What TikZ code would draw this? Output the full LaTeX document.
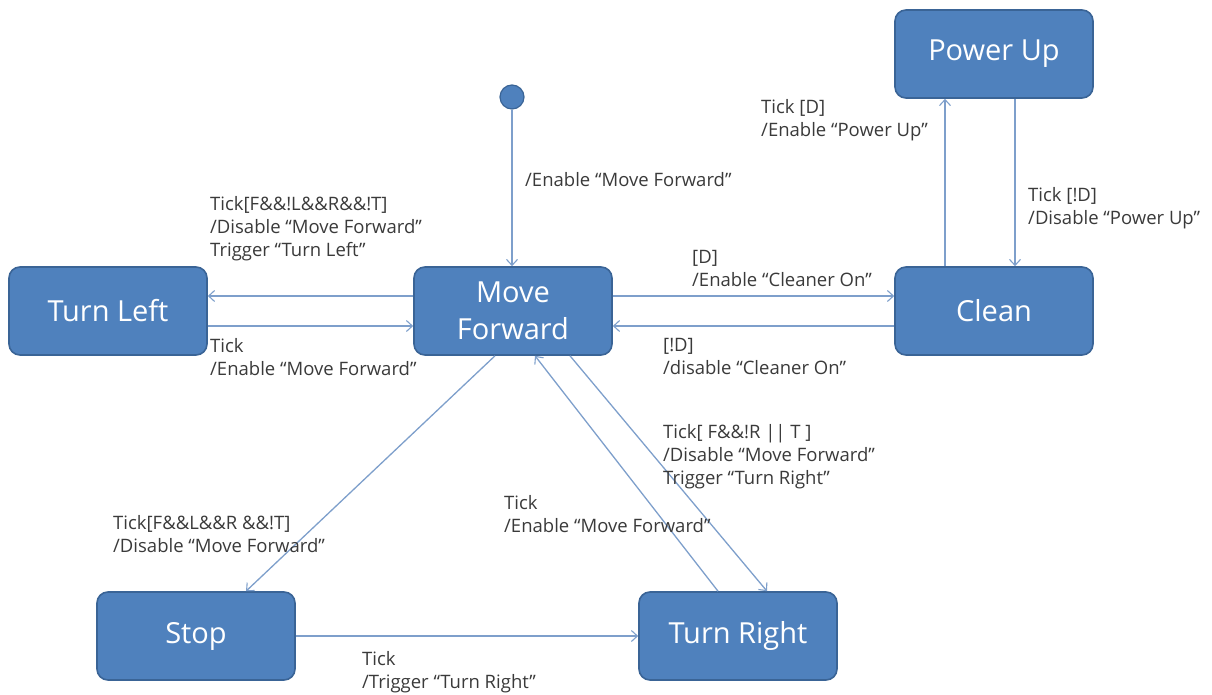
\documentclass[tikz,border=0pt]{standalone}
\usepackage{fontspec}
\setmainfont{Open Sans}
\usetikzlibrary{arrows.meta}
\definecolor{boxfill}{HTML}{4F81BD}
\definecolor{boxline}{HTML}{3A6496}
\definecolor{conn}{HTML}{7E9FCB}
\definecolor{txt}{HTML}{3A3A3A}
\begin{document}
\begin{tikzpicture}[x=1pt,y=-1pt,
  state/.style={draw=boxline, line width=1.6pt, fill=boxfill, rounded corners=11pt,
    minimum width=198pt, minimum height=88pt, text=white, align=center,
    font=\fontsize{29}{37}\selectfont, inner sep=0pt},
  arr/.style={draw=conn, line width=1.3pt, -{Straight Barb[length=6pt,width=11pt,line width=1.1pt]}},
  lbl/.style={anchor=west, align=left, text=txt, inner sep=0pt,
    font=\fontsize{18.5}{23}\selectfont}]
\useasboundingbox (0,0) rectangle (1212,695);
\node[state] (pu) at (994,54) {Power Up};
\node[state] (tl) at (108,311) {Turn Left};
\node[state] (mf) at (513,311) {Move\\Forward};
\node[state] (cl) at (994,311) {Clean};
\node[state] (st) at (196,636) {Stop};
\node[state] (tr) at (738,636) {Turn Right};
\node[circle, fill=boxfill, draw=boxline, line width=1.2pt, minimum size=24pt, inner sep=0pt] (init) at (512,97) {};

\draw[arr] (init) -- (init |- mf.north);
\draw[arr] ([yshift=15pt]mf.west) -- ([yshift=15pt]tl.east);
\draw[arr] ([yshift=-15pt]tl.east) -- ([yshift=-15pt]mf.west);
\draw[arr] ([yshift=15pt]mf.east) -- ([yshift=15pt]cl.west);
\draw[arr] ([yshift=-15pt]cl.west) -- ([yshift=-15pt]mf.east);
\draw[arr] ([xshift=-49pt]cl.north) -- ([xshift=-49pt]pu.south);
\draw[arr] ([xshift=21pt]pu.south) -- ([xshift=21pt]cl.north);
\draw[arr] ([xshift=-18pt]mf.south) -- ([xshift=50pt]st.north);
\draw[arr] ([xshift=57pt]mf.south) -- ([xshift=29pt]tr.north);
\draw[arr] ([xshift=-20pt]tr.north) -- ([xshift=22pt]mf.south);
\draw[arr] (st) -- (tr);

\node[lbl] (l1) at (525,180) {/Enable “Move Forward”};
\node[lbl] (l2) at (210,229) {Tick[F\&\&!L\&\&R\&\&!T]\\/Disable “Move Forward”\\Trigger “Turn Left”};
\node[lbl] (l3) at (210,357) {Tick\\/Enable “Move Forward”};
\node[lbl] (l4) at (692,268) {[D]\\/Enable “Cleaner On”};
\node[lbl] (l5) at (663,356) {[!D]\\/disable “Cleaner On”};
\node[lbl] (l6) at (761,120) {Tick [D]\\/Enable “Power Up”};
\node[lbl] (l7) at (1028,208) {Tick [!D]\\/Disable “Power Up”};
\node[lbl] (l8) at (113,534) {Tick[F\&\&L\&\&R \&\&!T]\\/Disable “Move Forward”};
\node[lbl] (l9) at (663,457) {Tick[ F\&\&!R || T ]\\/Disable “Move Forward”\\Trigger “Turn Right”};
\node[lbl] (l10) at (504,514) {Tick\\/Enable “Move Forward”};
\node[lbl] (l11) at (362,672) {Tick\\/Trigger “Turn Right”};
\end{tikzpicture}
\end{document}
